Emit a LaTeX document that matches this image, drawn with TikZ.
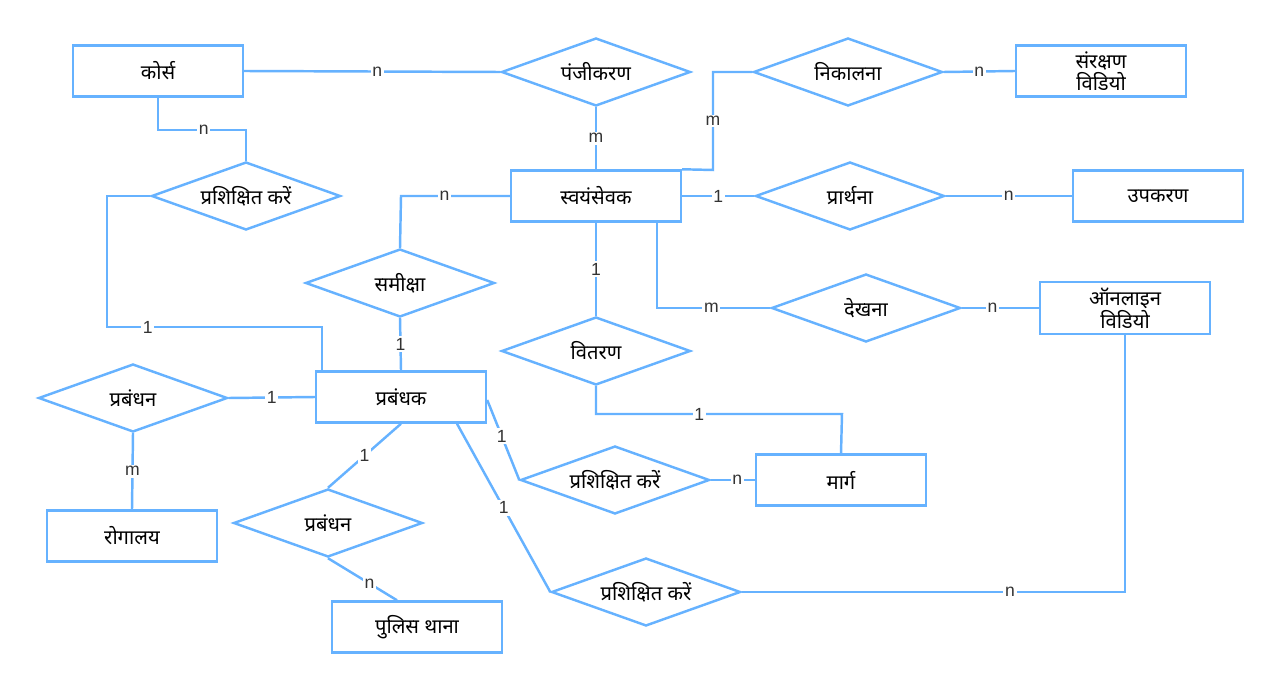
\documentclass[tikz,border=0pt]{standalone}
\usepackage{fontspec}
\setsansfont{Liberation Sans}
\newfontfamily\deva[Script=Devanagari]{Noto Sans}
\usetikzlibrary{shapes.geometric}
\definecolor{erblue}{RGB}{102,178,255}
\newcommand{\rtext}[1]{\makebox[0pt]{#1}}
\tikzset{
  entity/.style={draw=erblue, line width=1.4pt, minimum width=3.4cm, minimum height=1.02cm,
    align=center, font=\deva\bfseries\fontsize{11.5}{11}\selectfont},
  relation/.style={draw=erblue, line width=1.4pt, diamond, minimum width=3.78cm, minimum height=1.36cm,
    inner sep=0pt, font=\deva\bfseries\fontsize{11.5}{11}\selectfont},
  lbl/.style={fill=white, inner sep=1pt, text=black!80, font=\sffamily\fontsize{10}{10}\selectfont},
  conn/.style={draw=erblue, line width=1.4pt}
}
\begin{document}
\begin{tikzpicture}[x=0.02cm, y=-0.02cm]
  \useasboundingbox (0,0) rectangle (1280,689);
  % entities
  \node[entity] (course) at (158,71) {कोर्स};
  \node[entity] (protect) at (1101,71) {संरक्षण\\विडियो};
  \node[entity] (volunteer) at (596,196) {स्वयंसेवक};
  \node[entity] (tool) at (1158,196) {उपकरण};
  \node[entity] (online) at (1125,308) {ऑनलाइन\\विडियो};
  \node[entity] (manager) at (401,397) {प्रबंधक};
  \node[entity] (route) at (841,480) {मार्ग};
  \node[entity] (hospital) at (132,536) {रोगालय};
  \node[entity] (police) at (417,627) {पुलिस थाना};
  % relations
  \node[relation] (register) at (596,72) {\rtext{पंजीकरण}};
  \node[relation] (remove) at (848,72) {\rtext{निकालना}};
  \node[relation] (trainA) at (246,196) {\rtext{प्रशिक्षित करें}};
  \node[relation] (request) at (850,196) {\rtext{प्रार्थना}};
  \node[relation] (review) at (400,283) {\rtext{समीक्षा}};
  \node[relation] (watch) at (866,308) {\rtext{देखना}};
  \node[relation] (deliver) at (596,351) {\rtext{वितरण}};
  \node[relation] (manageA) at (133,398) {\rtext{प्रबंधन}};
  \node[relation] (trainB) at (615,480) {\rtext{प्रशिक्षित करें}};
  \node[relation] (manageB) at (328,523) {\rtext{प्रबंधन}};
  \node[relation] (trainC) at (646,592) {\rtext{प्रशिक्षित करें}};
  % connectors
  \draw[conn] (course.east) -- node[lbl,pos=0.52]{n} (register.west);
  \draw[conn] (course.south) |- node[lbl,pos=0.76]{n} (trainA.north |- 0,130) -- (trainA.north);
  \draw[conn] (trainA.west) -| (107,327) -- node[lbl,pos=0.19]{1} (322,327) -- (manager.north -| 322,0);
  \draw[conn] (register.south) -- node[lbl]{m} (volunteer.north);
  \draw[conn] (volunteer.north east) -- (713,170) -- node[lbl,pos=0.5]{m} (713,72) -- (remove.west);
  \draw[conn] (remove.east) -- node[lbl,pos=0.5]{n} (protect.west);
  \draw[conn] (volunteer.west) -- node[lbl,pos=0.6]{n} (401,196) -- (review.north);
  \draw[conn] (volunteer.east) -- node[lbl,pos=0.5]{1} (request.west);
  \draw[conn] (request.east) -- node[lbl,pos=0.5]{n} (tool.west);
  \draw[conn] (volunteer.south) -- node[lbl,pos=0.5]{1} (deliver.north);
  \draw[conn] (volunteer.south -| 657,0) |- node[lbl,pos=0.74]{m} (watch.west);
  \draw[conn] (watch.east) -- node[lbl,pos=0.4]{n} (online.west);
  \draw[conn] (review.south) -- node[lbl,pos=0.5]{1} (manager.north);
  \draw[conn] (deliver.south) |- node[lbl,pos=0.71]{1} (842,414) -- (route.north);
  \draw[conn] (manageA.east) -- node[lbl,pos=0.5]{1} (manager.west);
  \draw[conn] (manageA.south) -- node[lbl,pos=0.5]{m} (hospital.north);
  \draw[conn] (manager.east |- 0,400) -- node[lbl,pos=0.45]{1} (trainB.west);
  \draw[conn] (trainB.east) -- node[lbl,pos=0.6]{n} (route.west);
  \draw[conn] (manager.south) -- node[lbl,pos=0.5]{1} (manageB.north);
  \draw[conn] (manageB.south) -- node[lbl,pos=0.6]{n} (police.north -| 397,0);
  \draw[conn] (manager.south -| 457,0) -- node[lbl,pos=0.5]{1} (trainC.west);
  \draw[conn] (trainC.east) -| node[lbl,pos=0.35]{n} (online.south);
\end{tikzpicture}
\end{document}
